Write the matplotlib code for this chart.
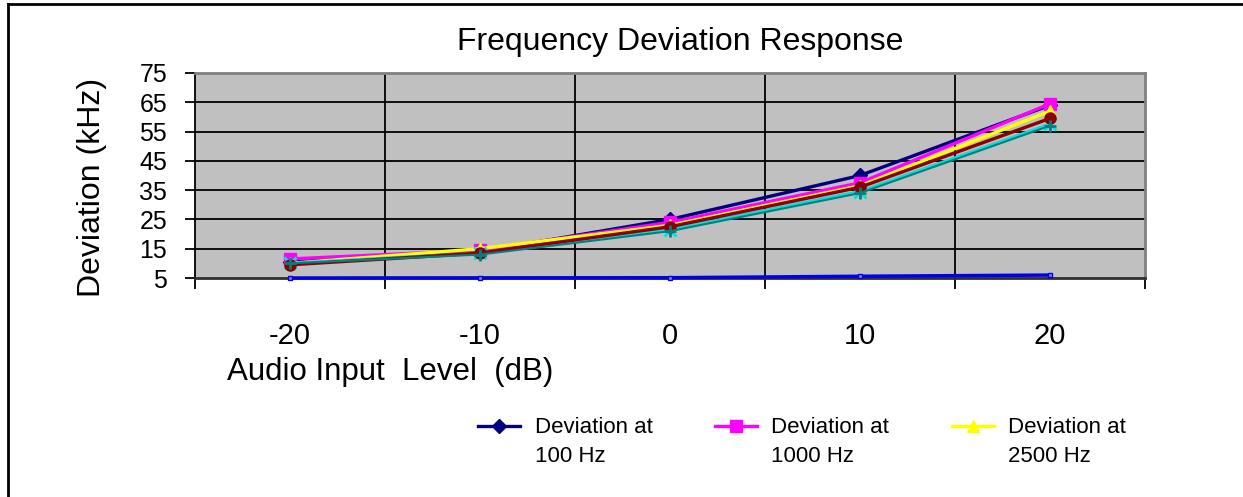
import matplotlib
matplotlib.use('Agg')
import matplotlib.pyplot as plt
from matplotlib.lines import Line2D
from matplotlib.legend_handler import HandlerLine2D
from matplotlib.transforms import Affine2D

plt.rcParams['font.family'] = ['Liberation Sans', 'DejaVu Sans']

# Audio input level categories (dB)
levels = ['-20', '-10', '0', '10', '20']

# Measured deviation (kHz) per tone frequency
dev_100 = [10.5, 14.0, 25.0, 40.0, 64.0]
dev_1000 = [11.5, 14.5, 24.0, 37.5, 64.5]
dev_2500 = [10.0, 15.0, 23.0, 36.5, 62.0]
dev_cyan = [10.0, 13.5, 21.5, 34.5, 57.5]
dev_red = [9.5, 13.5, 22.5, 36.0, 59.5]
dev_teal = [10.0, 13.0, 21.0, 34.0, 57.0]
dev_blue = [5.0, 5.05, 5.1, 5.6, 6.0]

yticks = [5, 15, 25, 35, 45, 55, 65, 75]

W, H = 1243, 497
fig = plt.figure(figsize=(W / 100, H / 100), dpi=100)
ax = fig.add_axes([195 / W, 1 - 278 / H, (1145 - 195) / W, (278 - 73) / H])
ax.set_facecolor('#c0c0c0')

x = range(len(levels))
lw = 2.4
ax.plot(x, dev_100, color='#000080', marker='D', ms=7, lw=lw, label='Deviation at\n100 Hz', zorder=3)
ax.plot(x, dev_1000, color='#ff00ff', marker='s', ms=8, lw=lw, label='Deviation at\n1000 Hz', zorder=3)
ax.plot(x, dev_2500, color='#ffff00', marker='^', ms=8, lw=lw, label='Deviation at\n2500 Hz', zorder=3)
ax.plot(x, dev_cyan, color='#00e0e0', marker='x', ms=8, mew=2, lw=lw, zorder=3)
ax.plot(x, dev_red, color='#8b0000', marker='o', ms=8, lw=lw, zorder=3)
ax.plot(x, dev_teal, color='#008080', marker='+', ms=9, mew=2, lw=1.5, zorder=3)
ax.plot(x, dev_blue, color='#0000ee', marker='s', ms=3, mfc='#8080ff', lw=2.5, zorder=4, clip_on=False)

ax.set_xlim(-0.5, len(levels) - 0.5)
ax.set_ylim(5, 75)

# category labels at centers, tick marks and gridlines on the boundaries
ax.set_xticks(list(x))
ax.set_xticklabels(levels, fontsize=21)
ax.tick_params(axis='x', which='major', length=0, pad=32)
ax.set_xticks([i - 0.5 for i in range(len(levels) + 1)], minor=True)
ax.tick_params(axis='x', which='minor', length=8, width=1.3, direction='out', color='black')
ax.grid(True, axis='x', which='minor', color='black', lw=1.3)

ax.set_yticks(yticks)
ax.set_yticklabels([str(v) for v in yticks], fontsize=18)
ax.tick_params(axis='y', length=7, width=1.3, direction='out', pad=13)
ax.grid(True, axis='y', which='major', color='black', lw=1.3)
ax.set_axisbelow(True)

fig.canvas.draw()
for t in (ax.xaxis.get_minor_ticks()[0], ax.xaxis.get_minor_ticks()[-1]):
    t.gridline.set_visible(False)
for t in (ax.yaxis.get_major_ticks()[0], ax.yaxis.get_major_ticks()[-1]):
    t.gridline.set_visible(False)

for side in ('top', 'right'):
    ax.spines[side].set_color('#808080')
    ax.spines[side].set_linewidth(2)
ax.spines['left'].set_color('black')
ax.spines['left'].set_linewidth(1.3)
ax.spines['bottom'].set_color('#303030')
ax.spines['bottom'].set_linewidth(2)

fig.text(680 / W, 1 - 42 / H, 'Frequency Deviation Response', fontsize=23, ha='center', va='center')
fig.text(92 / W, 1 - 187 / H, 'Deviation (kHz)', fontsize=23, rotation=90, ha='center', va='center')
fig.text(227 / W, 1 - 372 / H, 'Audio Input  Level  (dB)', fontsize=22.5, ha='left', va='center')


class FirstLineHandler(HandlerLine2D):
    # keep the sample line next to the first row of a two-row label
    def create_artists(self, legend, orig_handle, xdescent, ydescent, width, height, fontsize, trans):
        trans = Affine2D().translate(0, 0.75 * fontsize) + trans
        return super().create_artists(legend, orig_handle, xdescent, ydescent, width, height,
                                      fontsize, trans)


handles, labels = ax.get_legend_handles_labels()
leg = fig.legend(handles, labels, ncol=3, frameon=False, fontsize=16,
                 loc='center left', bbox_to_anchor=(478 / W, 1 - 442 / H),
                 handlelength=1.9, handletextpad=0.65, columnspacing=2.8,
                 borderaxespad=0, borderpad=0,
                 handler_map={h: FirstLineHandler() for h in handles})
for t in leg.get_texts():
    t.set_linespacing(1.45)

# outer frame of the chart object
fig.add_artist(Line2D([8 / W, 8 / W], [0, 1 - 4 / H], color='black', lw=2))
fig.add_artist(Line2D([8 / W, 1], [1 - 4 / H, 1 - 4 / H], color='black', lw=2))

fig.savefig('out.png', dpi=100)
